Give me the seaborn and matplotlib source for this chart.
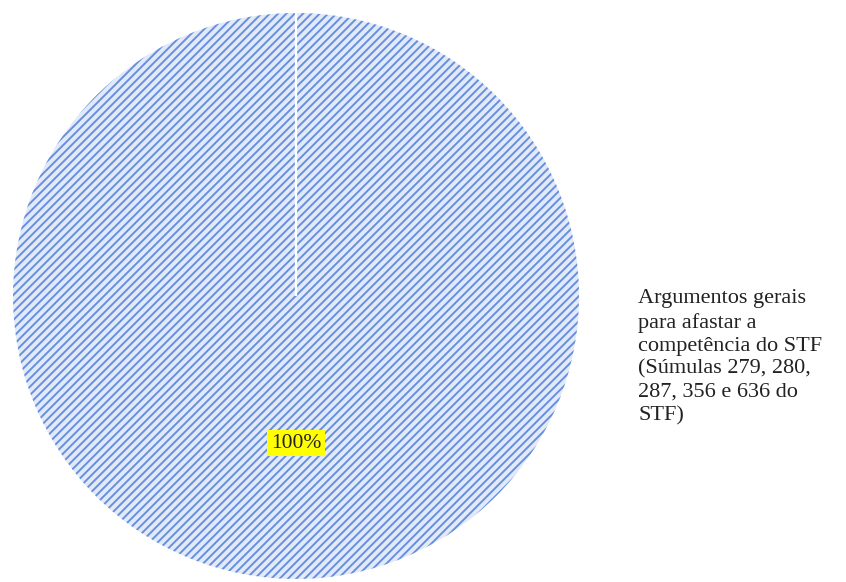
import matplotlib
matplotlib.use("Agg")
import numpy as np
import matplotlib.pyplot as plt
import seaborn as sns
from matplotlib.patches import Patch

sns.set_theme(style="white")
plt.rcParams["font.family"] = ["Liberation Serif", "DejaVu Serif"]
plt.rcParams["hatch.linewidth"] = 1.4

# Data
categories = ["Argumentos gerais\npara afastar a\ncompetência do STF\n(Súmulas 279, 280,\n287, 356 e 636 do\nSTF)"]
values = [100]

face = "#e2e9f8"
hatch_blue = "#6690de"

fig = plt.figure(figsize=(8.46, 5.82), dpi=100)
ax = fig.add_axes([0.0154, 0.0052, 0.669, 0.9725])

# hatched fill
wedges, texts, autotexts = ax.pie(
    values, startangle=90, counterclock=False,
    colors=[face], autopct="%1.0f%%", pctdistance=0.52,
    wedgeprops=dict(edgecolor=hatch_blue, linewidth=0, hatch="////"),
    textprops=dict(fontsize=15.5, color="#222222"),
)

# white slice border: a full wedge has no radial edge, so draw it from the wedge geometry
w = wedges[0]
cx, cy = w.center
ang = np.deg2rad(w.theta1)
ax.plot([cx, cx + w.r * np.cos(ang)], [cy, cy + w.r * np.sin(ang)],
        color="white", lw=1.6, solid_capstyle="butt", zorder=3)

for t in autotexts:
    t.set_bbox(dict(facecolor="#ffff00", edgecolor="none", pad=2.5))
    t.set_zorder(4)

ax.set_aspect("equal")
ax.set_xlim(-1.0, 1.0)
ax.set_ylim(-1.0, 1.0)
ax.set_axis_off()

handles = [Patch(facecolor="none", edgecolor="none")]
leg = fig.legend(handles, categories, loc="center left",
                 bbox_to_anchor=(0.731, 0.386), frameon=False,
                 handlelength=0, handletextpad=0, fontsize=16,
                 labelspacing=0)
for txt in leg.get_texts():
    txt.set_linespacing(1.29)
    txt.set_color("#222222")

fig.savefig("out.png", dpi=100)
